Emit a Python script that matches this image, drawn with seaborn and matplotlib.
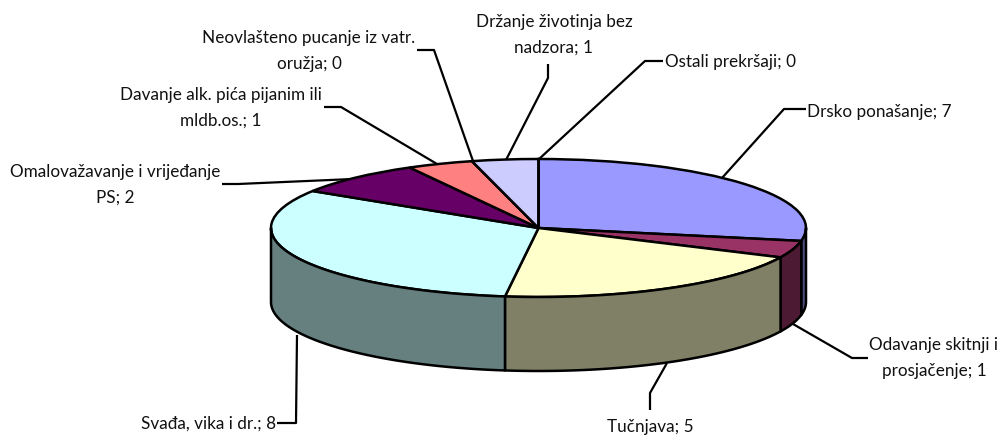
import numpy as np
import matplotlib
matplotlib.use('Agg')
import matplotlib.pyplot as plt
import seaborn as sns

# data
categories = ['Drsko ponašanje', 'Odavanje skitnji i\nprosjačenje', 'Tučnjava', 'Svađa, vika i dr.',
              'Omalovažavanje i vrijeđanje\nPS', 'Davanje alk. pića pijanim ili\nmldb.os.',
              'Neovlašteno pucanje iz vatr.\noružja', 'Držanje životinja bez\nnadzora', 'Ostali prekršaji']
values = [7, 1, 5, 8, 2, 1, 0, 1, 0]
top_colors = ['#9999FF', '#993366', '#FFFFCC', '#CCFFFF', '#660066', '#FF8080', '#0066CC', '#CCCCFF', '#DDDDDD']

# label centres (px) and alignment
label_pos = [(807, 112, 'left'), (934, 358, 'center'), (650, 427, 'center'), (276, 424, 'right'),
             (115, 185, 'center'), (221, 108, 'center'), (309, 51, 'center'), (554, 35, 'center'), (665, 62, 'left')]
# leader lines (px)
leaders = [[(722, 178), (784, 109), (806, 109)],
           [(793, 324), (852, 358), (868, 358)],
           [(667, 363), (650, 393), (650, 410)],
           [(297, 335), (296, 423), (277, 423)],
           [(353, 179), (238, 184), (222, 184)],
           [(437, 164), (341, 107), (324, 107)],
           [(473, 161), (434, 50), (417, 50)],
           [(506, 160), (548, 78), (548, 64)],
           [(538, 160), (645, 61), (663, 61)]]

W, H = 999, 437
CX, CY, RX, RY, DEPTH = 538.5, 228, 267.5, 69, 74

sns.set_theme(style='white')
plt.rcParams['font.family'] = ['Lato', 'DejaVu Sans']
colors = sns.color_palette(top_colors)
side_colors = [tuple(c * 0.5 for c in col) for col in colors]


def px(x, y):
    return (x - CX) / RX, (CY - y) / RY


fig = plt.figure(figsize=(W / 100, H / 100), dpi=100)
ax = fig.add_axes([0, 0, 1, 1])

# top of the pie, squashed by the non-equal axis scale
ax.pie(values, colors=colors, startangle=90, counterclock=False, radius=1, center=(0, 0),
       wedgeprops=dict(edgecolor='black', linewidth=1.8, zorder=3))
ax.set_aspect('auto')
ax.set_xlim(px(0, 0)[0], px(W, 0)[0])
ax.set_ylim(px(0, H)[1], px(0, 0)[1])

# side wall, only the front half (angles between 180 and 360) is visible
depth = DEPTH / RY
cum = np.cumsum([0] + values)
angles = 90 - cum / cum[-1] * 360
for i in range(len(values)):
    a1, a0 = angles[i], angles[i + 1]
    for shift in (0, -360):
        lo, hi = max(a0 + shift, -180), min(a1 + shift, 0)
        if hi > lo:
            t = np.radians(np.linspace(lo, hi, 80))
            xs = np.cos(t)
            ys = np.sin(t)
            ax.fill(np.r_[xs, xs[::-1]], np.r_[ys, ys[::-1] - depth], facecolor=side_colors[i],
                    edgecolor='black', linewidth=1.8, joinstyle='round', zorder=3)

for pts in leaders:
    lx, ly = zip(*[px(*p) for p in pts])
    ax.plot(lx, ly, color='black', linewidth=1.6, zorder=1, solid_capstyle='butt')

for cat, val, (x, y, ha) in zip(categories, values, label_pos):
    tx, ty = px(x, y)
    ax.text(tx, ty, f'{cat}; {val}', ha=ha, va='center', fontsize=12.3, color='#111111',
            multialignment='center', linespacing=1.75, zorder=5)

ax.axis('off')
fig.savefig('out.png', dpi=100, facecolor='white')
